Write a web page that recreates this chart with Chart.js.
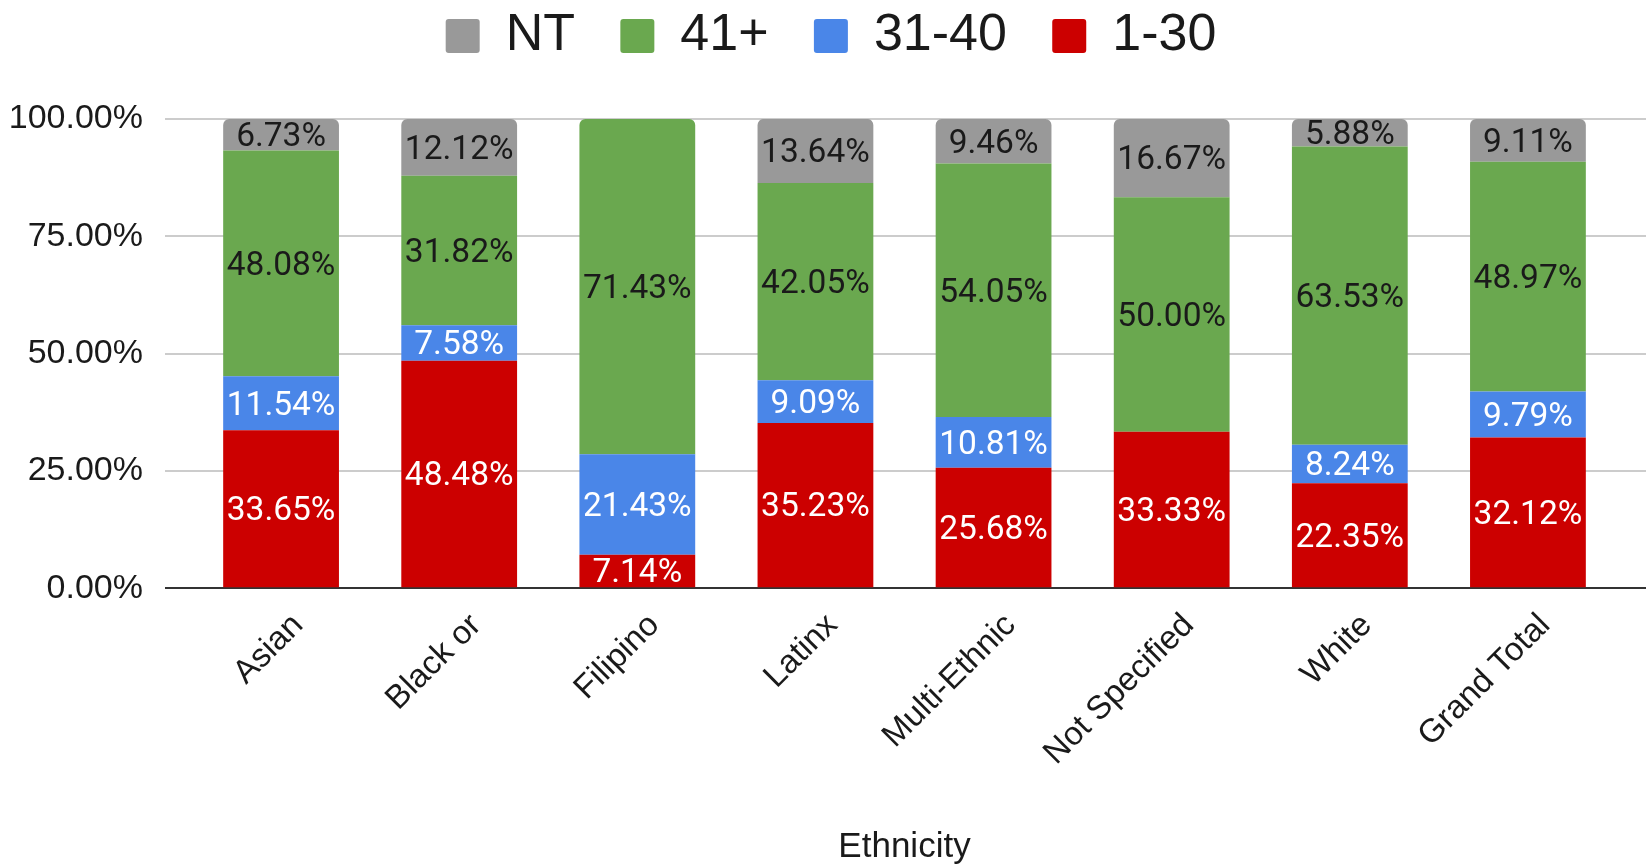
<!DOCTYPE html>
<html lang="en">
<head>
  <meta charset="UTF-8" />
  <title>Ethnicity</title>
  <script src="https://cdn.jsdelivr.net/npm/chart.js"></script>
  <style>
    body {
      margin: 0;
      padding: 0;
      background: #ffffff;
    }
    #chart {
      display: block;
    }
  </style>
</head>
<body>
  <canvas id="chart" width="1646" height="865"></canvas>

  <script>
    const categories = ["Asian", "Black or", "Filipino", "Latinx", "Multi-Ethnic", "Not Specified", "White", "Grand Total"];
    const seriesNames = ["1-30", "31-40", "41+", "NT"];
    const low = [33.65, 48.48, 7.14, 35.23, 25.68, 33.33, 22.35, 32.12];
    const mid = [11.54, 7.58, 21.43, 9.09, 10.81, 0, 8.24, 9.79];
    const high = [48.08, 31.82, 71.43, 42.05, 54.05, 50.00, 63.53, 48.97];
    const nt = [6.73, 12.12, 0, 13.64, 9.46, 16.67, 5.88, 9.11];
    const yTicks = [0, 25, 50, 75, 100];

    const colors = ['#cc0000', '#4a86e8', '#6aa84f', '#999999'];
    const labelColors = ['#ffffff', '#ffffff', '#1a1a1a', '#1a1a1a'];
    const seriesData = [low, mid, high, nt];

    // value text in the middle of each segment
    const valueLabels = {
      id: 'valueLabels',
      afterDatasetsDraw(chart) {
        const ctx = chart.ctx;
        ctx.save();
        ctx.font = '33.5px Roboto';
        ctx.textAlign = 'center';
        ctx.textBaseline = 'middle';
        chart.data.datasets.forEach((ds, i) => {
          chart.getDatasetMeta(i).data.forEach((bar, j) => {
            const v = ds.data[j];
            if (!v) return;
            ctx.fillStyle = labelColors[i];
            ctx.fillText(v.toFixed(2) + '%', bar.x, (bar.y + bar.base) / 2 + 3);
          });
        });
        ctx.restore();
      }
    };

    // gridlines run on to the right edge of the picture
    const gridToEdge = {
      id: 'gridToEdge',
      beforeDatasetsDraw(chart) {
        const ctx = chart.ctx;
        const y = chart.scales.y;
        ctx.save();
        ctx.lineWidth = 2;
        yTicks.forEach(t => {
          const py = Math.round(y.getPixelForValue(t));
          ctx.strokeStyle = t === 0 ? '#333333' : '#cccccc';
          ctx.beginPath();
          ctx.moveTo(chart.chartArea.right, py);
          ctx.lineTo(chart.width, py);
          ctx.stroke();
        });
        ctx.restore();
      }
    };

    // legend sits a little right of the canvas centre
    const legendShift = {
      id: 'legendShift',
      afterLayout(chart) {
        chart.legend.left += 18;
        chart.legend.right += 18;
      }
    };

    const topRadius = (ctx, i) => {
      const j = ctx.dataIndex;
      for (let k = i + 1; k < seriesData.length; k++) {
        if (seriesData[k][j]) return 0;
      }
      return { topLeft: 6, topRight: 6, bottomLeft: 0, bottomRight: 0 };
    };

    const ctx = document.getElementById('chart').getContext('2d');
    new Chart(ctx, {
      type: 'bar',
      data: {
        labels: categories,
        datasets: seriesNames.map((name, i) => ({
          label: name,
          data: seriesData[i],
          backgroundColor: colors[i],
          borderWidth: 0,
          borderSkipped: false,
          borderRadius: c => topRadius(c, i),
          categoryPercentage: 0.65,
          barPercentage: 1.0
        }))
      },
      options: {
        responsive: false,
        animation: false,
        layout: {
          padding: { left: 9, right: 29, top: 8, bottom: 0 }
        },
        plugins: {
          legend: {
            position: 'top',
            weight: 3000,
            reverse: true,
            labels: {
              color: '#1a1a1a',
              font: { family: 'Liberation Sans', size: 52 },
              boxWidth: 34,
              boxHeight: 34,
              useBorderRadius: true,
              borderRadius: 3,
              padding: 2,
              // spaces after each name give the gap before the next item
              generateLabels: chart =>
                Chart.defaults.plugins.legend.labels.generateLabels(chart)
                  .map(item => Object.assign(item, {
                    text: item.datasetIndex === 0 ? item.text : item.text + '   '
                  }))
            }
          },
          // empty spacer between the legend and the plot
          subtitle: {
            display: true,
            text: '',
            font: { size: 10 },
            padding: { top: 0, bottom: 35 }
          },
          tooltip: { enabled: false }
        },
        scales: {
          x: {
            stacked: true,
            grid: { display: false },
            border: { display: false },
            ticks: {
              color: '#1a1a1a',
              font: { family: 'Liberation Sans', size: 33 },
              maxRotation: 45,
              minRotation: 45,
              labelOffset: 17,
              padding: 10
            },
            title: {
              display: true,
              text: 'Ethnicity',
              color: '#1a1a1a',
              font: { family: 'Liberation Sans', size: 35, lineHeight: 1.0 },
              padding: { top: 47, bottom: 0 }
            }
          },
          y: {
            stacked: true,
            min: 0,
            max: 100,
            border: { display: false },
            afterFit: scale => { scale.width = 183; },
            grid: {
              color: c => c.tick && c.tick.value === 0 ? '#333333' : '#cccccc',
              lineWidth: 2,
              tickLength: 27
            },
            ticks: {
              stepSize: 25,
              color: '#1a1a1a',
              font: { family: 'Liberation Sans', size: 34 },
              padding: 22,
              callback: v => v.toFixed(2) + '%'
            }
          }
        }
      },
      plugins: [gridToEdge, valueLabels, legendShift]
    });
  </script>
</body>
</html>
